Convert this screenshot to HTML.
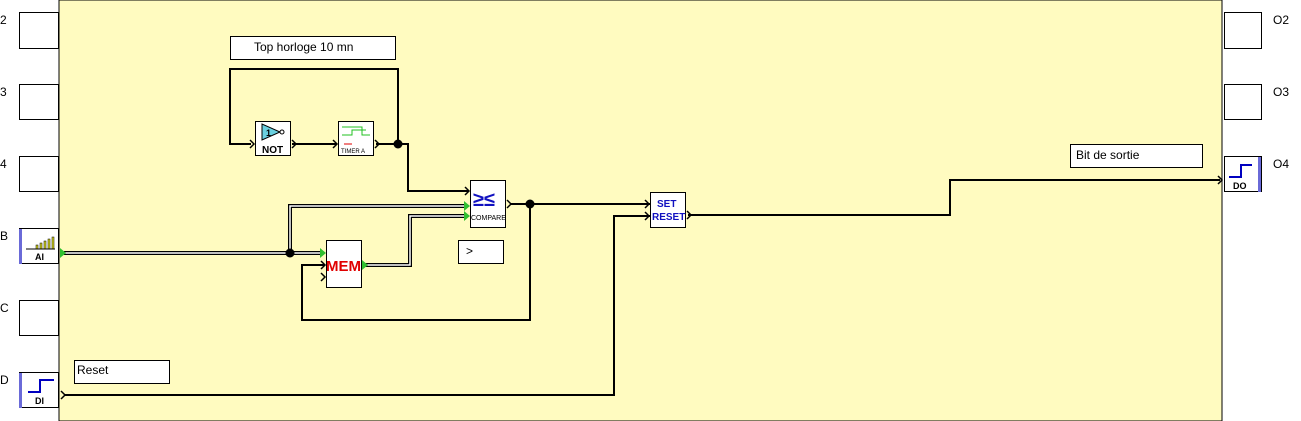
<!DOCTYPE html>
<html><head><style>body{margin:0;background:#fff}svg{display:block}text{font-family:"Liberation Sans",sans-serif}</style></head><body>
<svg width="1301" height="421" xmlns="http://www.w3.org/2000/svg">
<rect x="59" y="0" width="1163" height="421" fill="#FFFBC0" stroke="#000" stroke-width="1"/>
<g fill="#fff" stroke="#000">
<rect x="19.5" y="12.5" width="39" height="36"/><rect x="19.5" y="84.5" width="39" height="35"/><rect x="19.5" y="156.5" width="39" height="35"/>
<rect x="19.5" y="228.5" width="39" height="35"/><rect x="19.5" y="300.5" width="39" height="35"/><rect x="19.5" y="372.5" width="39" height="35"/>
<rect x="1224.5" y="12.5" width="37" height="36"/><rect x="1224.5" y="84.5" width="37" height="35"/><rect x="1224.5" y="156.5" width="37" height="35"/>
</g>
<rect x="19" y="229" width="3" height="35" fill="#6a6ad8"/><rect x="19" y="373" width="3" height="35" fill="#6a6ad8"/><rect x="1258" y="157" width="3" height="35" fill="#6a6ad8"/>
<g font-size="12" fill="#000"><text x="0" y="24">2</text><text x="0" y="96">3</text><text x="0" y="168">4</text><text x="0" y="240">B</text><text x="0" y="312">C</text><text x="0" y="384">D</text>
<text x="1273" y="24">O2</text><text x="1273" y="96">O3</text><text x="1273" y="168">O4</text></g>
<g stroke="#000" stroke-width="0.5" fill="#d8d820"><rect x="36" y="245" width="2" height="4"/><rect x="40" y="243" width="2" height="6"/><rect x="44" y="241" width="2" height="8"/><rect x="48" y="239" width="2" height="10"/><rect x="52" y="237" width="2" height="12"/></g>
<line x1="26" y1="249" x2="55" y2="249" stroke="#000"/>
<text x="35" y="260" font-size="9" font-weight="bold">AI</text>
<polyline points="28,392 40,392 40,380 54,380" fill="none" stroke="#0000c0" stroke-width="2"/>
<text x="35" y="404" font-size="9" font-weight="bold">DI</text>
<polyline points="1229,177 1241,177 1241,165 1252,165" fill="none" stroke="#0000c0" stroke-width="2"/>
<text x="1233" y="189" font-size="9" font-weight="bold">DO</text>
<g fill="#fff" stroke="#000"><rect x="230.5" y="36.5" width="165" height="23"/><rect x="458.5" y="240.5" width="45" height="23"/><rect x="1070.5" y="144.5" width="132" height="23"/><rect x="74.5" y="360.5" width="95" height="23"/></g>
<g font-size="12"><text x="254" y="51">Top horloge 10 mn</text><text x="466" y="255">&gt;</text><text x="1076" y="159">Bit de sortie</text><text x="77" y="374">Reset</text></g>
<g fill="none" stroke="#000" stroke-width="2">
<polyline points="251,144 230,144 230,69 398,69 398,144 376,144"/>
<line x1="292" y1="144" x2="336" y2="144"/>
<polyline points="398,144 408,144 408,191 468,191"/>
<polyline points="510,204 650,204"/><polyline points="530,204 530,320 302,320 302,265 324,265"/>
<polyline points="64,395 614,395 614,216 650,216"/>
<polyline points="688,215 950,215 950,180 1220,180"/>
</g>
<g fill="none" stroke="#000" stroke-width="4"><polyline points="64,253 322,253"/><polyline points="290,253 290,206 466,206"/><polyline points="365,265 410,265 410,216 466,216"/></g>
<g fill="none" stroke="#fff" stroke-width="1.5"><polyline points="64,253 322,253"/><polyline points="290,253 290,206 466,206"/><polyline points="365,265 410,265 410,216 466,216"/></g>
<g fill="#000"><circle cx="398" cy="144" r="4.5"/><circle cx="530" cy="204" r="4.5"/><circle cx="290" cy="253" r="4.5"/></g>
<g fill="#fff" stroke="#000"><rect x="255.5" y="121.5" width="35" height="34"/><rect x="338.5" y="121.5" width="35" height="34"/><rect x="470.5" y="180.5" width="35" height="47"/><rect x="650.5" y="192.5" width="35" height="35"/><rect x="326.5" y="240.5" width="35" height="47"/></g>
<polygon points="262,124 262,140 280,132" fill="#6ad0e0" stroke="#000"/><circle cx="282" cy="132" r="2" fill="#fff" stroke="#000"/>
<text x="266" y="136" font-size="9" font-weight="bold">1</text>
<text x="262" y="153" font-size="10" font-weight="bold">NOT</text>
<polyline points="342,135 352,135 352,130 366,130" fill="none" stroke="#20c020"/><polyline points="342,127 362,127 362,135 370,135" fill="none" stroke="#20c020"/>
<line x1="344" y1="144" x2="352" y2="144" stroke="#e00000"/>
<text x="341" y="153" font-size="6">TIMER A</text>
<text x="473" y="206" font-size="20" font-weight="bold" fill="#1010c0">≥≤</text>
<text x="471" y="220" font-size="7">COMPARE</text>
<text x="657" y="207" font-size="10" font-weight="bold" fill="#1010c0">SET</text>
<text x="652" y="220" font-size="10" font-weight="bold" fill="#1010c0">RESET</text>
<text x="326" y="271" font-size="15" font-weight="bold" fill="#e00000">MEM</text>
<g fill="#30c030"><polygon points="60,248 66,253 60,258"/><polygon points="320,248 326,253 320,258"/><polygon points="362,260 368,265 362,270"/><polygon points="464,201 470,206 464,211"/><polygon points="464,211 470,216 464,221"/></g>
<g fill="none" stroke="#000" stroke-width="1.5"><polyline points="250,140 254,144 250,148"/><polyline points="292,140 296,144 292,148"/><polyline points="333,140 337,144 333,148"/><polyline points="375,140 379,144 375,148"/><polyline points="465,187 469,191 465,195"/><polyline points="507,200 511,204 507,208"/><polyline points="645,200 649,204 645,208"/><polyline points="645,212 649,216 645,220"/><polyline points="687,211 691,215 687,219"/><polyline points="321,261 325,265 321,269"/><polyline points="321,273 325,277 321,281"/><polyline points="61,391 65,395 61,399"/><polyline points="1218,176 1222,180 1218,184"/></g>
</svg>
</body></html>
